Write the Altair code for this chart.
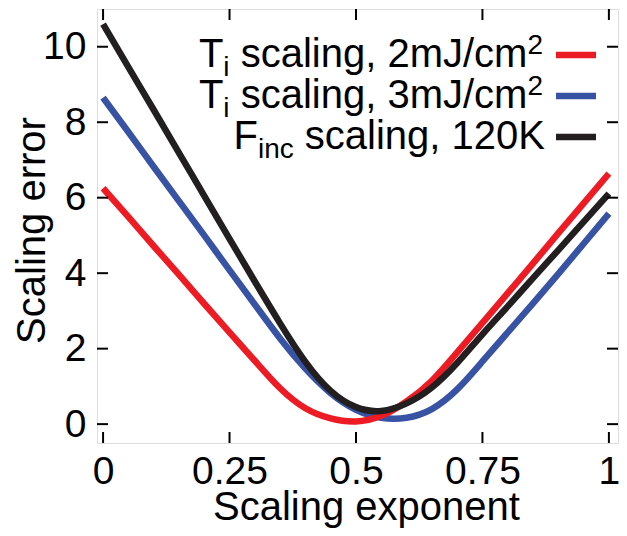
import altair as alt
import pandas as pd

# ---- data ----
x_vals = [0.00, 0.05, 0.10, 0.15, 0.20, 0.25, 0.30, 0.35, 0.40, 0.45, 0.50,
          0.55, 0.60, 0.65, 0.70, 0.75, 0.80, 0.85, 0.90, 0.95, 1.00]
red_2mJ = [6.25, 5.49, 4.72, 3.96, 3.19, 2.43, 1.68, 0.95, 0.42, 0.15, 0.07,
           0.22, 0.60, 1.15, 1.90, 2.68, 3.47, 4.26, 5.06, 5.85, 6.64]
blue_3mJ = [8.65, 7.74, 6.82, 5.91, 5.00, 4.08, 3.17, 2.27, 1.47, 0.82, 0.38,
            0.17, 0.17, 0.40, 0.92, 1.66, 2.43, 3.20, 3.98, 4.78, 5.58]
black_120K = [10.6, 9.46, 8.33, 7.19, 6.05, 4.91, 3.78, 2.67, 1.65, 0.88, 0.45,
              0.35, 0.55, 0.97, 1.62, 2.38, 3.12, 3.87, 4.61, 5.36, 6.11]

series_names = ["Ti 2mJ", "Ti 3mJ", "Finc 120K"]
series_colors = ["#ED1C24", "#3953A4", "#231F20"]

x_ticks = [0, 0.25, 0.5, 0.75, 1]
y_ticks = [0, 2, 4, 6, 8, 10]

FONT = "Liberation Sans"
W, H = 521, 434

rows = []
for name, ys in zip(series_names, [red_2mJ, blue_3mJ, black_120K]):
    for xv, yv in zip(x_vals, ys):
        rows.append({"x": xv, "y": yv, "series": name})
df = pd.DataFrame(rows)

xscale = alt.Scale(domain=[-0.012, 1.018], nice=False, zero=False)
yscale = alt.Scale(domain=[-0.5, 11.0], nice=False, zero=False)

x_axis = alt.Axis(values=x_ticks,
                  labelExpr="datum.value == 0 ? '0' : datum.value == 1 ? '1' : format(datum.value, '~g')",
                  domain=False, ticks=False, tickSize=0, grid=False,
                  labelFontSize=39, labelFont=FONT, labelColor="black", labelPadding=9,
                  labelFlush=False,
                  title="Scaling exponent", titleFont=FONT, titleFontSize=40,
                  titleFontWeight="normal", titleColor="black",
                  titleX=269, titleY=76, titleBaseline="alphabetic", titleAlign="center")
y_axis = alt.Axis(values=y_ticks, domain=False, ticks=False, tickSize=0, grid=False,
                  labelFontSize=39, labelFont=FONT, labelColor="black", labelPadding=11,
                  labelFlush=False,
                  title="Scaling error", titleFont=FONT, titleFontSize=40,
                  titleFontWeight="normal", titleColor="black",
                  titleAngle=270, titleX=-53, titleY=221, titleBaseline="alphabetic",
                  titleAlign="center")

layers = []
for name in ["Ti 3mJ", "Ti 2mJ", "Finc 120K"]:
    col = series_colors[series_names.index(name)]
    layers.append(
        alt.Chart(df[df.series == name]).mark_line(
            interpolate="natural", strokeWidth=6.5, color=col, strokeCap="butt"
        ).encode(
            x=alt.X("x:Q", scale=xscale, axis=x_axis),
            y=alt.Y("y:Q", scale=yscale, axis=y_axis),
        )
    )

# inward ticks on all four sides
TL = 11
yt = pd.DataFrame({"t": y_ticks})
xt = pd.DataFrame({"t": x_ticks})
tick_style = dict(color="black", strokeWidth=2)
layers.append(alt.Chart(yt).mark_rule(**tick_style).encode(
    y=alt.Y("t:Q", scale=yscale), x=alt.value(0), x2=alt.value(TL)))
layers.append(alt.Chart(yt).mark_rule(**tick_style).encode(
    y=alt.Y("t:Q", scale=yscale), x=alt.value(W - TL), x2=alt.value(W)))
layers.append(alt.Chart(xt).mark_rule(**tick_style).encode(
    x=alt.X("t:Q", scale=xscale), y=alt.value(H - TL), y2=alt.value(H)))
layers.append(alt.Chart(xt).mark_rule(**tick_style).encode(
    x=alt.X("t:Q", scale=xscale), y=alt.value(0), y2=alt.value(TL)))

# ---- manual legend with sub/superscripts ----
adv = {"T": 611, "i": 222, " ": 278, "s": 500, "c": 500, "a": 556, "l": 222,
       "n": 556, "g": 556, ",": 278, "2": 556, "3": 556, "m": 833, "J": 500,
       "/": 278, "F": 611, "1": 556, "0": 556, "K": 667}


def tw(s, size):
    return sum(adv.get(ch, 556) for ch in s) * size / 1000.0


MAIN, SMALL = 40, 28
one = alt.Data(values=[{"k": 0}])
legend_rows = [
    ([("T", "main"), ("i", "sub"), (" scaling, 2mJ/cm", "main"), ("2", "sup")], 446, 58, series_colors[0]),
    ([("T", "main"), ("i", "sub"), (" scaling, 3mJ/cm", "main"), ("2", "sup")], 446, 99, series_colors[1]),
    ([("F", "main"), ("inc", "sub"), (" scaling, 120K", "main")], 448, 140, series_colors[2]),
]
for pieces, xend, base, col in legend_rows:
    xr = xend
    for text, kind in reversed(pieces):
        size = MAIN if kind == "main" else SMALL
        yb = base + (9 if kind == "sub" else (-13 if kind == "sup" else 0))
        layers.append(alt.Chart(one).mark_text(
            text=text, align="right", baseline="alphabetic", font=FONT,
            fontSize=size, color="black"
        ).encode(x=alt.value(xr), y=alt.value(yb)))
        xr -= tw(text, size)
    layers.append(alt.Chart(one).mark_rule(color=col, strokeWidth=6.5, strokeCap="butt").encode(
        x=alt.value(459), x2=alt.value(499), y=alt.value(base - 12)))

chart = alt.layer(*layers).properties(
    width=W, height=H,
    autosize=alt.AutoSizeParams(type="none"),
    padding={"left": 89, "top": 1, "right": 1, "bottom": 85},
).configure_view(stroke="black", strokeWidth=2.5).configure(background="white")

chart.save("out.html", embed_options={"renderer": "svg", "actions": False})
